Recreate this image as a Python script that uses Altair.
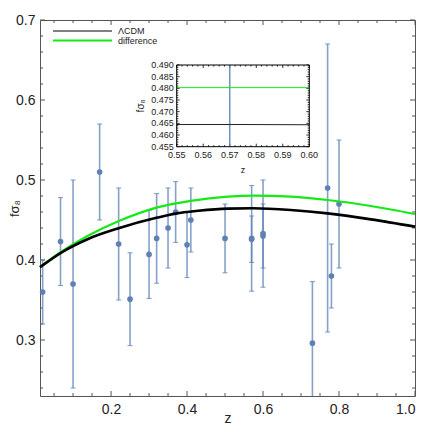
import altair as alt
import pandas as pd

# ---------------- data ----------------
z_obs = [0.02, 0.067, 0.10, 0.17, 0.22, 0.25, 0.30, 0.32, 0.35, 0.37, 0.40, 0.41,
         0.50, 0.57, 0.57, 0.60, 0.60, 0.73, 0.77, 0.78, 0.80]
fs8_obs = [0.36, 0.423, 0.37, 0.51, 0.42, 0.351, 0.407, 0.427, 0.440, 0.460, 0.419, 0.45,
           0.427, 0.427, 0.426, 0.433, 0.43, 0.296, 0.49, 0.38, 0.47]
err_obs = [0.04, 0.055, 0.13, 0.06, 0.07, 0.058, 0.055, 0.056, 0.05, 0.038, 0.041, 0.04,
           0.043, 0.066, 0.029, 0.067, 0.04, 0.077, 0.18, 0.04, 0.08]

lcdm_z = [0.013, 0.068, 0.138, 0.222, 0.322, 0.37, 0.43, 0.507, 0.572, 0.673, 0.77, 0.884, 1.0]
lcdm_f = [0.391, 0.409, 0.426, 0.440, 0.453, 0.458, 0.4615, 0.4642, 0.4646, 0.4625, 0.4583, 0.4508, 0.4417]
diff_z = [0.013, 0.068, 0.138, 0.222, 0.322, 0.41, 0.507, 0.577, 0.673, 0.77, 0.884, 1.0]
diff_f = [0.391, 0.410, 0.430, 0.449, 0.4658, 0.474, 0.4792, 0.4805, 0.4792, 0.475, 0.4675, 0.4575]

inset_z = [0.55, 0.575, 0.60]
inset_lcdm = [0.4645, 0.4645, 0.4644]
inset_diff = [0.4803, 0.4803, 0.4803]

x_major = [0.2, 0.4, 0.6, 0.8, 1.0]
x_minor = [0.05, 0.1, 0.15, 0.25, 0.3, 0.35, 0.45, 0.5, 0.55, 0.65, 0.7, 0.75, 0.85, 0.9, 0.95]
y_major = [0.3, 0.4, 0.5, 0.6, 0.7]
y_minor = [0.24, 0.26, 0.28, 0.32, 0.34, 0.36, 0.38, 0.42, 0.44, 0.46, 0.48,
           0.52, 0.54, 0.56, 0.58, 0.62, 0.64, 0.66, 0.68]

in_x_major = [0.55, 0.56, 0.57, 0.58, 0.59, 0.60]
in_x_minor = [0.552, 0.554, 0.556, 0.558, 0.562, 0.564, 0.566, 0.568, 0.572, 0.574, 0.576, 0.578,
              0.582, 0.584, 0.586, 0.588, 0.592, 0.594, 0.596, 0.598]
in_y_major = [0.455, 0.46, 0.465, 0.47, 0.475, 0.48, 0.485, 0.49]
in_y_minor = [0.456, 0.457, 0.458, 0.459, 0.461, 0.462, 0.463, 0.464, 0.466, 0.467, 0.468, 0.469,
              0.471, 0.472, 0.473, 0.474, 0.476, 0.477, 0.478, 0.479, 0.481, 0.482, 0.483, 0.484,
              0.486, 0.487, 0.488, 0.489]
inset_xlim = [0.55, 0.60]
inset_ylim = [0.455, 0.49]

legend_labels = ["ΛCDM", "difference"]

# ---------------- layout / style ----------------
W, H = 375, 376
IX0, IX1, IY0, IY1 = 136.7, 269.3, 45.0, 126.7
FONT = "Liberation Sans"
BLUE = "#5E81B5"
GREEN = "#14EA14"
FRAME = "#555555"

obs = pd.DataFrame({"z": z_obs, "f": fs8_obs, "e": err_obs})
obs["lo"] = obs["f"] - obs["e"]
obs["hi"] = obs["f"] + obs["e"]
lcdm = pd.DataFrame({"z": lcdm_z, "f": lcdm_f})
diff = pd.DataFrame({"z": diff_z, "f": diff_f})

xs = alt.Scale(domain=[0.013, 1.0], nice=False, zero=False)
ys = alt.Scale(domain=[0.23, 0.7], nice=False, zero=False)

ax_x = alt.Axis(values=x_major, format=".1f", ticks=False, domain=False, grid=False,
                labelFontSize=14, labelFont=FONT, labelColor="#222", labelPadding=6,
                title="z", titleFont=FONT, titleFontSize=14, titleFontWeight="normal",
                titleColor="#222", titleY=22, titleBaseline="middle")
ax_y = alt.Axis(values=y_major, format=".1f", ticks=False, domain=False, grid=False,
                labelFontSize=14, labelFont=FONT, labelColor="#222", labelPadding=5,
                title="fσ₈", titleFont=FONT, titleFontSize=13, titleFontWeight="normal",
                titleColor="#222", titleX=-26, titleY=188, titleBaseline="middle",
                titleAlign="center", titleAngle=-90)


def X(field):
    return alt.X(field, type="quantitative", scale=xs, axis=ax_x)


def Y(field):
    return alt.Y(field, type="quantitative", scale=ys, axis=ax_y)


def tick_layers_x(vals, length):
    d = pd.DataFrame({"z": vals})
    base = alt.Chart(d).mark_rule(color=FRAME, strokeWidth=1)
    return [
        base.encode(x=X("z"), y=alt.value(H), y2=alt.value(H - length)),
        base.encode(x=X("z"), y=alt.value(0), y2=alt.value(length)),
    ]


def tick_layers_y(vals, length):
    d = pd.DataFrame({"f": vals})
    base = alt.Chart(d).mark_rule(color=FRAME, strokeWidth=1)
    return [
        base.encode(y=Y("f"), x=alt.value(0), x2=alt.value(length)),
        base.encode(y=Y("f"), x=alt.value(W), x2=alt.value(W - length)),
    ]


main_layers = []
main_layers += tick_layers_x(x_major, 5) + tick_layers_x(x_minor, 3)
main_layers += tick_layers_y(y_major, 5) + tick_layers_y(y_minor, 3)

bars = alt.Chart(obs).mark_rule(color=BLUE, strokeWidth=1.6, opacity=0.75, clip=True).encode(
    x=X("z"), y=Y("lo"), y2="hi")
caps_lo = alt.Chart(obs).transform_filter("datum.lo >= 0.23").mark_tick(
    color=BLUE, orient="horizontal", size=5, thickness=1, opacity=0.8).encode(x=X("z"), y=Y("lo"))
caps_hi = alt.Chart(obs).mark_tick(
    color=BLUE, orient="horizontal", size=5, thickness=1, opacity=0.8).encode(x=X("z"), y=Y("hi"))
pts = alt.Chart(obs).mark_point(filled=True, color=BLUE, size=32, opacity=1).encode(
    x=X("z"), y=Y("f"))

line_diff = alt.Chart(diff).mark_line(color=GREEN, strokeWidth=2.2, interpolate="monotone").encode(
    x=X("z"), y=Y("f"))
line_lcdm = alt.Chart(lcdm).mark_line(color="black", strokeWidth=2.6, interpolate="monotone").encode(
    x=X("z"), y=Y("f"))

leg_df = pd.DataFrame({"label": legend_labels})
leg = [
    alt.Chart(leg_df).transform_filter(alt.datum.label == legend_labels[0]).mark_rule(
        color="black", strokeWidth=1).encode(x=alt.value(13), x2=alt.value(72), y=alt.value(11)),
    alt.Chart(leg_df).transform_filter(alt.datum.label == legend_labels[1]).mark_rule(
        color=GREEN, strokeWidth=2.2).encode(x=alt.value(13), x2=alt.value(72), y=alt.value(20.5)),
    alt.Chart(leg_df).transform_filter(alt.datum.label == legend_labels[0]).mark_text(
        align="left", baseline="middle", font=FONT, fontSize=9, color="#222").encode(
        x=alt.value(78), y=alt.value(11.3), text="label:N"),
    alt.Chart(leg_df).transform_filter(alt.datum.label == legend_labels[1]).mark_text(
        align="left", baseline="middle", font=FONT, fontSize=9, color="#222").encode(
        x=alt.value(78), y=alt.value(20.8), text="label:N"),
]

main = alt.layer(*main_layers, bars, caps_lo, caps_hi, pts, line_diff, line_lcdm, *leg)

# ---------------- inset ----------------
xs_in = alt.Scale(domain=inset_xlim, range=[IX0, IX1], nice=False, zero=False, clamp=True)
ys_in = alt.Scale(domain=inset_ylim, range=[IY1, IY0], nice=False, zero=False, clamp=True)


def XI(field):
    return alt.X(field, type="quantitative", scale=xs_in, axis=None)


def YI(field):
    return alt.Y(field, type="quantitative", scale=ys_in, axis=None)


box = pd.DataFrame({"x0": [inset_xlim[0]], "x1": [inset_xlim[1]],
                    "y0": [inset_ylim[0]], "y1": [inset_ylim[1]]})
inset_bg = alt.Chart(box).mark_rect(fill="white", stroke=None).encode(
    x=XI("x0"), x2="x1", y=YI("y0"), y2="y1")
inset_frame = alt.Chart(box).mark_rect(fill=None, stroke="black", strokeWidth=1).encode(
    x=XI("x0"), x2="x1", y=YI("y0"), y2="y1")

in_layers = [inset_bg]
for vals, ln in [(in_x_major, 3), (in_x_minor, 1.6)]:
    d = pd.DataFrame({"z": vals})
    b = alt.Chart(d).mark_rule(color="#333", strokeWidth=1)
    in_layers += [b.encode(x=XI("z"), y=alt.value(IY1), y2=alt.value(IY1 - ln)),
                  b.encode(x=XI("z"), y=alt.value(IY0), y2=alt.value(IY0 + ln))]
for vals, ln in [(in_y_major, 3), (in_y_minor, 1.6)]:
    d = pd.DataFrame({"f": vals})
    b = alt.Chart(d).mark_rule(color="#333", strokeWidth=1)
    in_layers += [b.encode(y=YI("f"), x=alt.value(IX0), x2=alt.value(IX0 + ln)),
                  b.encode(y=YI("f"), x=alt.value(IX1), x2=alt.value(IX1 - ln))]

in_obs = alt.Chart(obs).transform_filter(
    "datum.z >= 0.55 && datum.z < 0.59").mark_rule(color=BLUE, strokeWidth=1.6, opacity=0.85).encode(
    x=XI("z"), y=YI("lo"), y2="hi")
in_df = pd.DataFrame({"z": inset_z, "l": inset_lcdm, "d": inset_diff})
in_l = alt.Chart(in_df).mark_line(color="#222", strokeWidth=1).encode(x=XI("z"), y=YI("l"))
in_d = alt.Chart(in_df).mark_line(color=GREEN, strokeWidth=1).encode(x=XI("z"), y=YI("d"))

in_xlab = alt.Chart(pd.DataFrame({"z": in_x_major})).mark_text(
    baseline="top", align="center", font=FONT, fontSize=9, color="#222").encode(
    x=XI("z"), y=alt.value(IY1 + 4), text=alt.Text("z:Q", format=".2f"))
in_ylab = alt.Chart(pd.DataFrame({"f": in_y_major})).mark_text(
    baseline="middle", align="right", font=FONT, fontSize=9, color="#222").encode(
    y=YI("f"), x=alt.value(IX0 - 3), text=alt.Text("f:Q", format=".3f"))
in_titles = pd.DataFrame({"t": ["z", "fσ₈"]})
in_xt = alt.Chart(in_titles).transform_filter(alt.datum.t == "z").mark_text(
    baseline="middle", align="center", font=FONT, fontSize=9, color="#222").encode(
    x=alt.value((IX0 + IX1) / 2), y=alt.value(IY1 + 23), text="t:N")
in_yt = alt.Chart(in_titles).transform_filter(alt.datum.t == "fσ₈").mark_text(
    baseline="middle", align="center", font=FONT, fontSize=10, color="#222", angle=270).encode(
    x=alt.value(IX0 - 36), y=alt.value((IY0 + IY1) / 2), text="t:N")

inset = alt.layer(*in_layers, in_obs, in_l, in_d, inset_frame, in_xlab, in_ylab, in_xt, in_yt)

chart = alt.layer(main, inset).resolve_scale(x="independent", y="independent").properties(
    width=W, height=H,
    autosize=alt.AutoSizeParams(type="none"),
    padding={"left": 32, "top": 12, "right": 13, "bottom": 29},
).configure_view(stroke=FRAME, strokeWidth=1)

chart.save("out.html", embed_options={"renderer": "svg", "actions": False})
